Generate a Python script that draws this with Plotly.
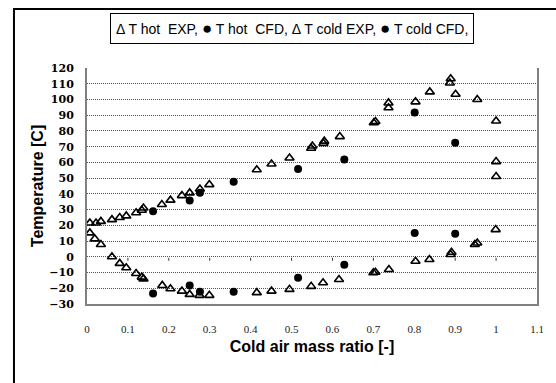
import plotly.graph_objects as go

# ---- data ----
hot_exp_x = [0.007, 0.022, 0.034, 0.061, 0.080, 0.096, 0.120, 0.134, 0.138, 0.183, 0.204,
             0.232, 0.251, 0.276, 0.299, 0.415, 0.451, 0.495, 0.548, 0.551, 0.578, 0.580,
             0.618, 0.701, 0.705, 0.737, 0.737, 0.803, 0.838, 0.887, 0.889, 0.901, 0.954,
             1.000, 1.000, 1.000]
hot_exp_y = [21.5, 21.5, 22.5, 23.6, 25.0, 26.0, 28.0, 29.6, 31.0, 33.2, 36.0,
             38.9, 40.6, 43.1, 45.9, 55.3, 59.0, 62.8, 69.0, 70.4, 72.1, 73.5,
             76.4, 85.2, 86.0, 94.7, 97.8, 98.5, 104.8, 110.5, 113.2, 103.3, 100.0,
             86.3, 60.5, 51.0]

hot_cfd_x = [0.1615, 0.251, 0.276, 0.3585, 0.516, 0.629, 0.801, 0.900]
hot_cfd_y = [28.9, 35.8, 40.7, 47.7, 55.8, 61.8, 91.7, 72.5]

cold_exp_x = [0.007, 0.019, 0.034, 0.061, 0.080, 0.096, 0.120, 0.134, 0.138, 0.184, 0.204,
              0.232, 0.251, 0.275, 0.299, 0.415, 0.451, 0.495, 0.548, 0.577, 0.616,
              0.700, 0.705, 0.738, 0.803, 0.837, 0.889, 0.891, 0.948, 0.954, 0.999]
cold_exp_y = [15.2, 11.4, 7.8, 0.0, -4.2, -7.0, -10.6, -12.9, -14.0, -18.2, -20.3,
              -21.8, -23.9, -24.5, -24.5, -22.8, -21.8, -20.7, -18.8, -16.5, -14.4,
              -10.1, -9.8, -8.1, -2.8, -1.7, 1.5, 2.9, 7.8, 8.8, 17.3]

cold_cfd_x = [0.1615, 0.251, 0.276, 0.3585, 0.516, 0.629, 0.801, 0.900]
cold_cfd_y = [-23.4, -18.2, -22.2, -22.2, -13.3, -5.1, 15.1, 14.6]

x_ticks = [0, 0.1, 0.2, 0.3, 0.4, 0.5, 0.6, 0.7, 0.8, 0.9, 1, 1.1]
x_tick_text = ["0", "0.1", "0.2", "0.3", "0.4", "0.5", "0.6", "0.7", "0.8", "0.9", "1", "1.1"]
y_ticks = list(range(-30, 121, 10))

legend_names = ["T hot  EXP,", "T hot  CFD,", "T cold EXP,", "T cold CFD,"]
legend_glyphs = ["\u0394", "\u25CF", "\u0394", "\u25CF"]

# ---- layout constants ----
W, H = 556, 383
ML, MR, MT, MB = 87, 13, 68, 79
PW, PH = W - ML - MR, H - MT - MB

def px_x(p):
    return (p - ML) / PW

def px_y(p):
    return (H - MB - p) / PH

tri = dict(symbol="triangle-up-open", size=8, color="black", line=dict(color="black", width=1.6))
dot = dict(symbol="circle", size=8, color="black")

fig = go.Figure()
fig.add_trace(go.Scatter(x=hot_exp_x, y=hot_exp_y, mode="markers", name="T hot  EXP", marker=tri))
fig.add_trace(go.Scatter(x=hot_cfd_x, y=hot_cfd_y, mode="markers", name="T hot  CFD", marker=dot))
fig.add_trace(go.Scatter(x=cold_exp_x, y=cold_exp_y, mode="markers", name="T cold EXP", marker=tri))
fig.add_trace(go.Scatter(x=cold_cfd_x, y=cold_cfd_y, mode="markers", name="T cold CFD", marker=dot))

parts = []
for g, n in zip(legend_glyphs, legend_names):
    if g == "\u25CF":
        parts.append('<span style="font-size:17px">' + g + '</span> ' + n)
    else:
        parts.append(g + " " + n)
legend_text = " ".join(parts)

shapes = []
# outer chart frame (left and top visible)
shapes.append(dict(type="rect", xref="paper", yref="paper",
                   x0=px_x(13), x1=px_x(W + 20), y0=px_y(H + 20), y1=px_y(9),
                   line=dict(color="black", width=2), layer="below"))
# small tick marks on the zero line
for t in x_ticks[1:-1]:
    shapes.append(dict(type="line", xref="x", yref="y", x0=t, x1=t,
                       ysizemode="pixel", yanchor=0, y0=-1, y1=-4,
                       line=dict(color="#333", width=1)))

fig.update_layout(
    width=W, height=H,
    margin=dict(l=ML, r=MR, t=MT, b=MB, pad=0),
    paper_bgcolor="white", plot_bgcolor="white",
    showlegend=False,
    shapes=shapes,
    xaxis=dict(range=[0, 1.1], tickvals=x_ticks, ticktext=x_tick_text,
               showgrid=False, zeroline=False,
               showline=True, linecolor="#808080", linewidth=2,
               ticks="", ticklabelstandoff=14,
               tickfont=dict(family="Liberation Serif", size=11, color="#222"),
               title=dict(text="<b>Cold air mass ratio [-]</b>", standoff=7,
                          font=dict(family="Liberation Sans", size=16, color="black"))),
    yaxis=dict(range=[-30, 120], tickvals=y_ticks,
               showgrid=True, gridcolor="#555", griddash="1px,1px", gridwidth=1,
               zeroline=False,
               showline=True, mirror=True, linecolor="#808080", linewidth=2,
               ticks="", ticklabelstandoff=9,
               tickfont=dict(family="DejaVu Serif", size=11, color="black", weight="bold"),
               title=dict(text="<b>Temperature [C]</b>", standoff=2,
                          font=dict(family="Liberation Sans", size=16, color="black"))),
    annotations=[dict(text=legend_text, xref="paper", yref="paper",
                      x=px_x(295), y=px_y(28.5), xanchor="center", yanchor="middle",
                      showarrow=False, bordercolor="black", borderwidth=1,
                      borderpad=5, bgcolor="white",
                      font=dict(family="Liberation Sans", size=14, color="black"))],
)

fig.write_html("out.html")
